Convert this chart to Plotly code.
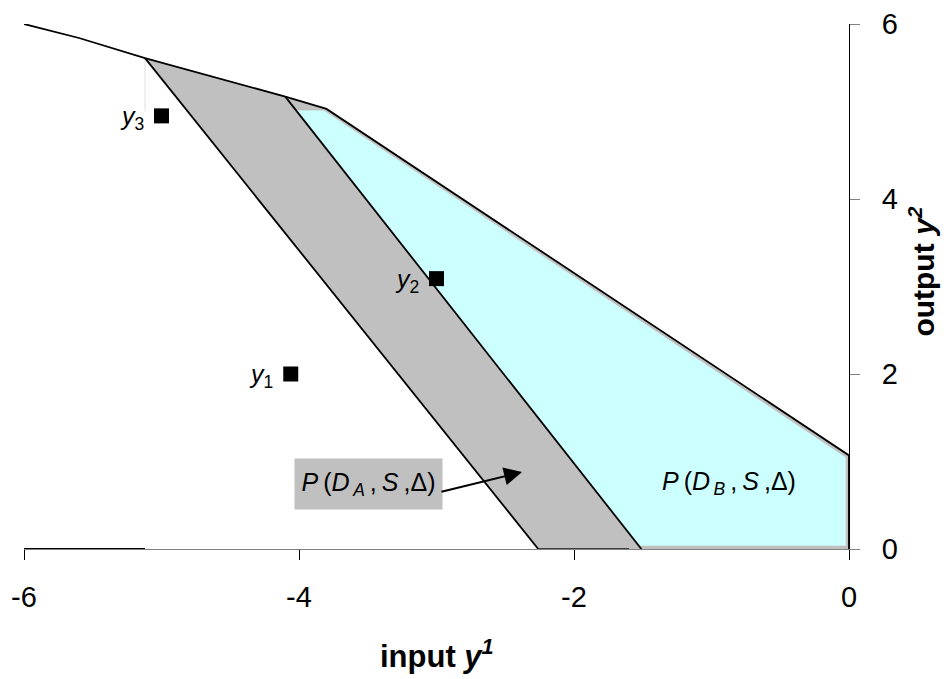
import plotly.graph_objects as go

# ---- data ----
frontier_x = [-6.0, -5.6, -5.12, -4.1, -3.8, 0.0, 0.0]
frontier_y = [6.0, 5.84, 5.61, 5.17, 5.03, 1.07, 0.0]

edgeA_x = [-5.12, -2.26]
edgeA_y = [5.61, 0.0]
edgeB_x = [-4.1, -1.51]
edgeB_y = [5.17, 0.0]

regionA_x = [-5.12, -4.1, -3.8, 0.0, 0.0, -2.26]
regionA_y = [5.61, 5.17, 5.03, 1.07, 0.0, 0.0]

regionB_x = [-4.02, -3.82, -0.025, -0.025, -1.53]
regionB_y = [5.01, 5.01, 1.045, 0.04, 0.04]

base_x = [-6.0, -5.12]
base_y = [0.0, 0.0]
baseA_x = [-2.26, -1.6]
baseA_y = [0.0, 0.0]
guide_x = [-5.12, -5.12]
guide_y = [5.61, 5.0]

point_names = ["1", "2", "3"]
point_x = [-4.06, -3.0, -5.0]
point_y = [2.0, 3.09, 4.95]

x_ticks = [-6, -4, -2, 0]
y_ticks = [0, 2, 4, 6]

FONT = "Liberation Sans, Arial, sans-serif"
TS = "\u2009"  # thin space for the wide letter spacing of the labels

fig = go.Figure()

fig.add_trace(go.Scatter(x=regionA_x, y=regionA_y, mode="lines", fill="toself",
                         fillcolor="#C0C0C0", line=dict(color="#C0C0C0", width=1),
                         hoverinfo="skip", showlegend=False))
fig.add_trace(go.Scatter(x=regionB_x, y=regionB_y, mode="lines", fill="toself",
                         fillcolor="#CCFFFF", line=dict(color="#CCFFFF", width=0.5),
                         hoverinfo="skip", showlegend=False))
fig.add_trace(go.Scatter(x=guide_x, y=guide_y, mode="lines",
                         line=dict(color="#E0E0E0", width=1), showlegend=False))
fig.add_trace(go.Scatter(x=baseA_x, y=baseA_y, mode="lines",
                         line=dict(color="#404040", width=2), showlegend=False))
fig.add_trace(go.Scatter(x=base_x, y=base_y, mode="lines",
                         line=dict(color="black", width=2), showlegend=False))
for ex, ey in [(edgeA_x, edgeA_y), (edgeB_x, edgeB_y)]:
    fig.add_trace(go.Scatter(x=ex, y=ey, mode="lines",
                             line=dict(color="black", width=1.8), showlegend=False))
fig.add_trace(go.Scatter(x=frontier_x, y=frontier_y, mode="lines",
                         line=dict(color="black", width=1.8), showlegend=False))
fig.add_trace(go.Scatter(x=point_x, y=point_y, mode="markers",
                         marker=dict(symbol="square", size=15, color="black"),
                         cliponaxis=False, showlegend=False))

annotations = []
for n, px, py in zip(point_names, point_x, point_y):
    annotations.append(dict(x=px, y=py, xref="x", yref="y",
                            text=f"<i>y</i><sub>{n}</sub>", showarrow=False,
                            xanchor="right", yanchor="middle", xshift=-16, yshift=-2,
                            font=dict(family=FONT, size=25, color="black")))

labelA = f"<i>P</i>{TS}(<i>D</i><sub>{TS}<i>A</i></sub>{TS},{TS}<i>S</i>{TS},Δ)"
labelB = f"<i>P</i>{TS}(<i>D</i><sub>{TS}<i>B</i></sub>{TS},{TS}<i>S</i>{TS},Δ)"

annotations.append(dict(x=-3.495, y=0.743, xref="x", yref="y", text=labelA,
                        showarrow=False, bgcolor="#C0C0C0", width=145, height=48,
                        font=dict(family=FONT, size=25, color="black")))
annotations.append(dict(x=-2.378, y=0.88, ax=-2.975, ay=0.651, axref="x", ayref="y",
                        xref="x", yref="y", text="", showarrow=True,
                        arrowhead=2, arrowsize=1.8, arrowwidth=2, arrowcolor="black"))
annotations.append(dict(x=-0.873, y=0.754, xref="x", yref="y", text=labelB,
                        showarrow=False,
                        font=dict(family=FONT, size=25, color="black")))

# axis titles
annotations.append(dict(x=0.5, y=-0.2, xref="paper", yref="paper",
                        text="<b>input <i>y</i><sup><i>1</i></sup></b>", showarrow=False,
                        xanchor="center", yanchor="middle",
                        font=dict(family=FONT, size=31, color="black")))
annotations.append(dict(x=1.088, y=0.5276, xref="paper", yref="paper",
                        text="<b>output <i>y</i><sup><i>2</i></sup></b>", showarrow=False,
                        xanchor="center", yanchor="middle", textangle=-90,
                        font=dict(family=FONT, size=30, color="black")))

# the page body has an 8px margin, so the figure is drawn 8px smaller and shifted
fig.update_layout(
    width=943, height=671,
    margin=dict(l=16, r=102, t=16, b=130, autoexpand=False),
    paper_bgcolor="white", plot_bgcolor="white",
    font=dict(family=FONT, color="black"),
    annotations=annotations,
    xaxis=dict(range=[-6, 0], tickvals=x_ticks, ticktext=[str(v) for v in x_ticks],
               showgrid=False, zeroline=False, showline=True, linecolor="#808080",
               linewidth=1, ticks="outside", ticklen=10, tickcolor="black",
               tickfont=dict(family=FONT, size=29), ticklabelstandoff=12,
               automargin=False),
    yaxis=dict(range=[0, 6], tickvals=y_ticks, ticktext=[str(v) for v in y_ticks],
               side="right", showgrid=False, zeroline=False, showline=True,
               linecolor="black", linewidth=1, ticks="outside", ticklen=10,
               tickcolor="#808080", tickfont=dict(family=FONT, size=29),
               ticklabelstandoff=16, automargin=False),
)

fig.write_html("out.html")
